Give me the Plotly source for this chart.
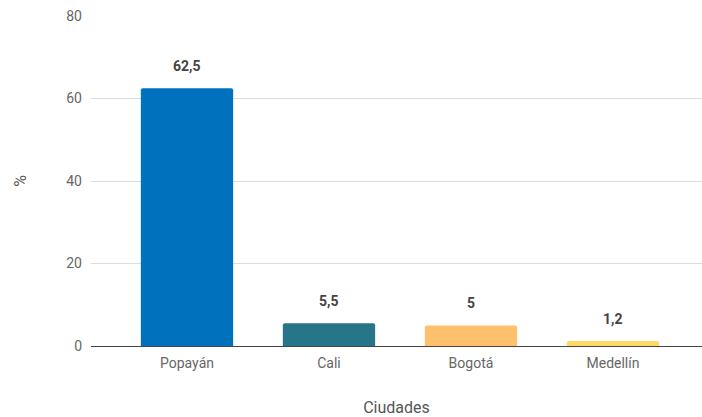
import plotly.graph_objects as go

ciudades = ["Popayán", "Cali", "Bogotá", "Medellín"]
porcentajes = [62.5, 5.5, 5, 1.2]
etiquetas = ["62,5", "5,5", "5", "1,2"]
colores = ["#0071BC", "#267589", "#FFC06E", "#FFD966"]

fig = go.Figure(
    go.Bar(
        x=ciudades,
        y=porcentajes,
        marker=dict(color=colores, cornerradius=2, line_width=0),
        width=0.65,
        hoverinfo="x+y",
    )
)

# value labels sit a bit higher above the bars than plotly's "outside" text
for ciudad, valor, etiqueta in zip(ciudades, porcentajes, etiquetas):
    fig.add_annotation(
        x=ciudad,
        y=valor,
        text=etiqueta,
        showarrow=False,
        yanchor="middle",
        yshift=22,
        font=dict(family="Roboto", size=14, color="#444444", weight="bold"),
    )

fig.update_layout(
    width=702,
    height=417,
    margin=dict(l=91, r=0, t=16, b=71),
    paper_bgcolor="white",
    plot_bgcolor="white",
    font=dict(family="Roboto", size=14, color="#666666"),
    showlegend=False,
)

fig.update_xaxes(
    range=[-0.676, 3.627],
    automargin=False,
    showgrid=False,
    showline=False,
    ticks="",
    ticklabelstandoff=7,
    title=dict(text="Ciudades", font=dict(size=16, color="#555555"), standoff=35),
)

fig.update_yaxes(
    range=[0, 80],
    tickvals=[0, 20, 40, 60, 80],
    automargin=False,
    showgrid=True,
    gridcolor="#dddddd",
    gridwidth=1,
    zeroline=True,
    zerolinecolor="#444444",
    zerolinewidth=1,
    ticklabelstandoff=8,
    title=dict(text="%", font=dict(size=16, color="#555555"), standoff=35),
)

# drop the default 8px page margin so the 702x417 figure fills the window
fig.write_html(
    "out.html",
    config={"displayModeBar": False},
    post_script="document.body.style.margin='0';document.body.style.overflow='hidden';",
)
